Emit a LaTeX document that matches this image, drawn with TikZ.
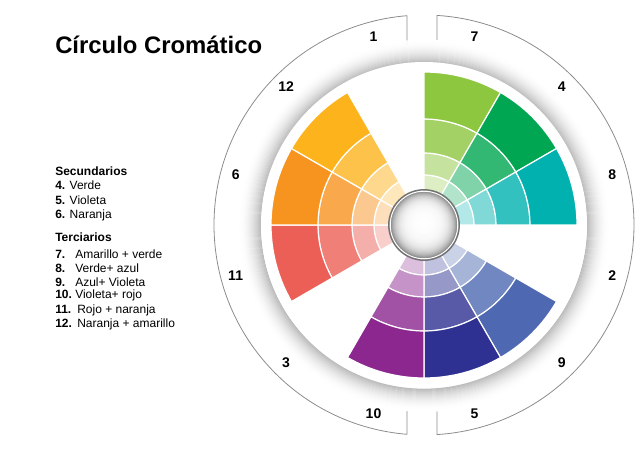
\documentclass[tikz,border=0pt]{standalone}
\usepackage{fontspec}
\setmainfont{Liberation Sans}
\usepackage{xcolor}
\usepackage{tikz}

\definecolor{c7}{HTML}{8DC63F}
\definecolor{c4}{HTML}{00A651}
\definecolor{c8}{HTML}{00B1B0}
\definecolor{c9}{HTML}{4E69B1}
\definecolor{c5}{HTML}{2E3191}
\definecolor{c10}{HTML}{8B278F}
\definecolor{c11}{HTML}{EC5F56}
\definecolor{c6}{HTML}{F7941F}
\definecolor{c12}{HTML}{FDB31C}

\tikzset{
  seg/.style={draw=white,line width=0.9pt},
  ringline/.style={draw=black!45,line width=0.6pt},
  num/.style={font=\fontsize{10.5}{12}\selectfont\bfseries,inner sep=0pt},
  heading/.style={font=\fontsize{17.9}{20}\selectfont\bfseries,anchor=west,inner sep=0pt},
  legend/.style={font=\fontsize{9}{10.7}\selectfont,anchor=west,inner sep=0pt}
}

\begin{document}
\begin{tikzpicture}[x=0.75pt,y=0.75pt]
\useasboundingbox (0,0) rectangle (643,450);
\node[heading] (title) at (55,405) {Círculo Cromático};
\foreach \y/\txt [count=\i] in {278.3/\textbf{Secundarios},265/\textbf{4.} Verde,249.3/\textbf{5.} Violeta,235/\textbf{6.} Naranja,
  212.7/\textbf{Terciarios},196/\makebox[15pt][l]{\textbf{7.}}Amarillo + verde,181.7/\makebox[15pt][l]{\textbf{8.}}Verde+ azul,
  167.7/\makebox[15pt][l]{\textbf{9.}}Azul+ Violeta,154.3/\makebox[15pt][l]{\textbf{10.}}Violeta+ rojo,
  140/\makebox[16.5pt][l]{\textbf{11.}}Rojo + naranja,126/\makebox[16.5pt][l]{\textbf{12.}}Naranja + amarillo}
  \node[legend] (leg\i) at (55,\y) {\txt};
\begin{scope}[shift={(424,225)}]
\draw[ringline] (-17,179.3) -- (94.64:210) arc (94.64:265.36:210) -- (-17,-179.3);
\draw[ringline] (13,179.6) -- (86.45:210) arc (86.45:-86.45:210) -- (13,-179.6);
\foreach \k in {22,...,0}{
  \pgfmathsetmacro\g{26*(1-\k/22)^2}
  \draw[black!\g,line width=0.95pt] (0,-0.8) circle (163.5+\k);
}
\fill[white] (0,0) circle (163);
\foreach \a/\c in {60/c7,30/c4,0/c8,-60/c9,-90/c5,-120/c10,180/c11,150/c6,120/c12}
  \foreach \ri/\ro/\t in {28/50/30,50/72/50,72/106/80,106/153/100}
    \filldraw[seg,fill=\c!\t] (\a:\ri) arc (\a:\a+30:\ri) -- (\a+30:\ro) arc (\a+30:\a:\ro) -- cycle;
\foreach \k in {0,...,33}{
  \pgfmathsetmacro\g{50*exp(-\k/6)}
  \fill[black!\g] (0,0.1*\k) circle (34-\k);
}
\draw[white,line width=0.8pt] (0,0) circle (33.8);
\draw[black!55,line width=1.1pt] (0,0) circle (35.2);
\foreach \n/\ang in {1/105,7/75,4/45,8/15,2/-15,9/-45,5/-75,10/-105,3/-135,11/-165,6/165,12/135}
  \node[num] (n\n) at (\ang:195) {\n};
\end{scope}
\end{tikzpicture}
\end{document}
